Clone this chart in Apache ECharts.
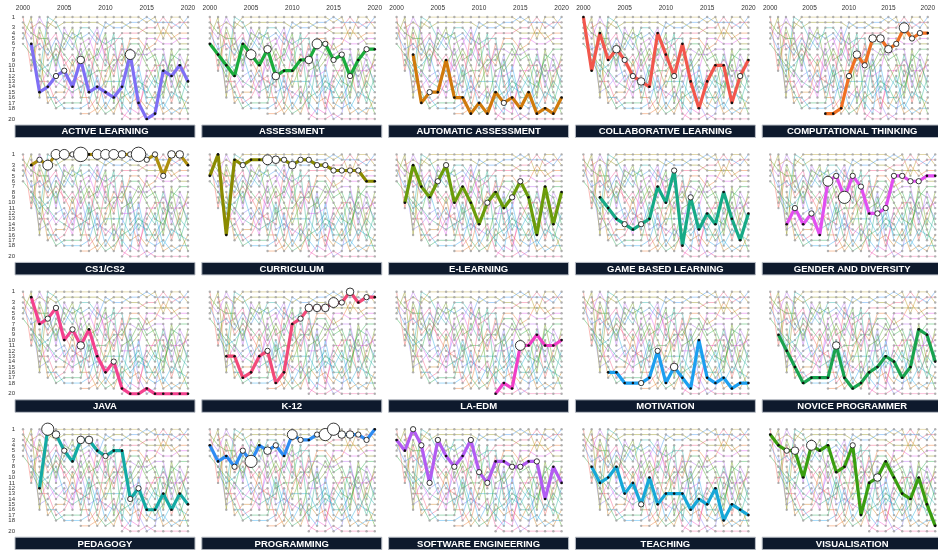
<!DOCTYPE html>
<html>
<head>
<meta charset="utf-8">
<script src="https://cdn.jsdelivr.net/npm/echarts@6/dist/echarts.min.js"></script>
<style>
  html, body { margin: 0; padding: 0; background: #fff; }
  #chart { width: 938px; height: 550px; }
</style>
</head>
<body>
<div id="chart"></div>
<script>
// Keyword ranking per year (1 = most frequent), null = not in the top list that year
const years = [2000, 2001, 2002, 2003, 2004, 2005, 2006, 2007, 2008, 2009, 2010,
               2011, 2012, 2013, 2014, 2015, 2016, 2017, 2018, 2019, 2020];
const yearTicks = [2000, 2005, 2010, 2015, 2020];
const rankTicks = [1, 2, 3, 4, 5, 6, 7, 8, 9, 10, 11, 12, 13, 14, 15, 16, 17, 18, 19, 20];

const topics = ['ACTIVE LEARNING', 'ASSESSMENT', 'AUTOMATIC ASSESSMENT', 'COLLABORATIVE LEARNING',
  'COMPUTATIONAL THINKING', 'CS1/CS2', 'CURRICULUM', 'E-LEARNING', 'GAME BASED LEARNING',
  'GENDER AND DIVERSITY', 'JAVA', 'K-12', 'LA-EDM', 'MOTIVATION', 'NOVICE PROGRAMMER',
  'PEDAGOGY', 'PROGRAMMING', 'SOFTWARE ENGINEERING', 'TEACHING', 'VISUALISATION'];

const topicColors = ['#7f6ff5', '#1aac3c', '#d07a0c', '#f2574c', '#f07023', '#ad8f0e', '#8a8a00',
  '#6b9c0a', '#16aa86', '#e24ff0', '#f4418e', '#f24a78', '#f03ec6', '#1c9ff0', '#19a34f',
  '#14aaa4', '#2e8cf2', '#b25cf2', '#16a8d8', '#3a9e10'];

// ranks
const rankActiveLearning = [null, 6, 15, 14, 12, 11, 14, 9, 15, 14, 15, 16, 14, 8, 17, 20, 19, 11, 12, 10, 13];
const rankAssessment = [6, 8, 10, 12, 6, 8, 10, 7, 12, 11, 11, 9, 9, 6, 6, 9, 8, 12, 9, 7, 7];
const rankAutomaticAssessment = [null, null, 8, 17, 15, 15, 9, 16, 16, 19, 17, 19, 15, 17, 16, 18, 15, 19, 18, 19, 16];
const rankCollaborativeLearning = [1, 11, 4, 9, 7, 9, 12, 13, 14, 4, 8, 12, 6, 13, 18, 13, 10, 10, 17, 12, 9];
const rankComputationalThinking = [null, null, null, null, null, null, null, 19, 19, 18, 12, 8, 10, 5, 5, 7, 6, 3, 5, 4, 4];
const rankCs1Cs2 = [null, 3, 2, 3, 1, 1, 1, 1, 1, 1, 1, 1, 1, 1, 1, 2, 1, 5, 1, 1, 3];
const rankCurriculum = [5, 1, 16, 2, 3, 2, 2, 2, 2, 2, 3, 2, 2, 3, 3, 4, 4, 4, 4, 6, 6];
const rankELearning = [null, 10, 3, 7, 9, 6, 3, 10, 7, 10, 14, 10, 8, 11, 9, 6, 9, 16, 7, 14, 8];
const rankGameBasedLearning = [null, null, 9, 11, 13, 14, 15, 14, 13, 7, 10, 4, 18, 9, 15, 12, 14, 8, 13, 17, 12];
const rankGenderDiversity = [null, null, 14, 11, 14, 12, 16, 6, 5, 9, 5, 7, 12, 12, 11, 5, 5, 6, 6, 5, 5];
const rankJava = [null, 2, 7, 6, 4, 10, 8, 11, 8, 13, 16, 14, 19, 20, 20, 19, 20, 20, 20, 20, 20];
const rankK12 = [null, null, 13, 13, 17, 16, 13, 12, 18, 16, 7, 6, 4, 4, 4, 3, 3, 1, 3, 2, 2];
const rankLaEdm = [null, null, null, null, null, null, null, null, null, null, null, null, 20, 18, 19, 11, 11, 9, 11, 11, 10];
const rankMotivation = [null, null, null, 16, 16, 18, 18, 18, 17, 12, 18, 15, 17, 19, 10, 17, 18, 17, 19, 18, 18];
const rankNoviceProgrammer = [null, 9, 12, 15, 18, 17, 17, 17, 11, 17, 19, 18, 16, 15, 13, 14, 17, 15, 8, 9, 14];
const rankPedagogy = [null, null, 12, 1, 2, 5, 7, 3, 3, 5, 6, 5, 5, 14, 12, 16, 16, 13, 16, 13, 15];
const rankProgramming = [4, 7, 6, 8, 5, 7, 4, 5, 4, 6, 2, 3, 3, 2, 2, 1, 2, 2, 2, 3, 1];
const rankSoftwareEngineering = [3, 5, 1, 4, 11, 3, 6, 8, 6, 3, 9, 11, 7, 7, 8, 8, 7, 7, 14, 8, 11];
const rankTeaching = [null, 8, 11, 10, 8, 13, 11, 15, 10, 15, 13, 13, 13, 16, 14, 15, 12, 18, 15, 16, 17];
const rankVisualisation = [2, 4, 5, 5, 10, 4, 5, 4, 9, 8, 4, 17, 11, 10, 7, 10, 13, 14, 10, 15, 19];

// highlighted papers per keyword-year (0 = none)
const hlActiveLearning = [null, 0, 0, 0, 1, 1, 0, 2, 0, 0, 0, 0, 0, 3, 0, 0, 0, 0, 0, 0, 0];
const hlAssessment = [0, 0, 0, 0, 0, 3, 0, 2, 2, 0, 0, 0, 2, 3, 1, 1, 1, 1, 0, 1, 0];
const hlAutomaticAssessment = [null, null, 0, 0, 1, 0, 0, 0, 0, 0, 0, 0, 0, 1, 0, 0, 0, 0, 0, 0, 0];
const hlCollaborativeLearning = [0, 0, 0, 0, 2, 1, 1, 2, 0, 0, 0, 1, 0, 0, 0, 0, 0, 0, 0, 1, 0];
const hlComputationalThinking = [null, null, null, null, null, null, null, 0, 0, 0, 1, 2, 1, 2, 2, 2, 1, 3, 1, 1, 0];
const hlCs1Cs2 = [null, 0, 1, 3, 3, 3, 1, 5, 0, 3, 3, 3, 2, 1, 5, 1, 1, 1, 2, 2, 0];
const hlCurriculum = [0, 0, 0, 0, 1, 0, 0, 3, 2, 1, 2, 1, 1, 1, 1, 1, 1, 1, 1, 0, 0];
const hlELearning = [null, 0, 0, 0, 0, 1, 1, 0, 0, 0, 0, 1, 0, 0, 1, 1, 0, 0, 0, 0, 0];
const hlGameBasedLearning = [null, null, 0, 0, 0, 1, 0, 1, 0, 0, 0, 1, 0, 1, 0, 0, 0, 0, 0, 0, 0];
const hlGenderDiversity = [null, null, 0, 1, 0, 1, 0, 3, 1, 4, 1, 1, 0, 1, 1, 1, 1, 1, 1, 0, 0];
const hlJava = [null, 0, 0, 1, 1, 0, 1, 2, 0, 0, 0, 1, 0, 0, 0, 0, 0, 0, 0, 0, 0];
const hlK12 = [null, null, 0, 0, 0, 0, 0, 1, 0, 0, 0, 1, 2, 2, 2, 3, 1, 2, 0, 1, 0];
const hlLaEdm = [null, null, null, null, null, null, null, null, null, null, null, null, 0, 0, 0, 3, 0, 0, 0, 0, 0];
const hlMotivation = [null, null, null, 0, 0, 0, 0, 1, 0, 1, 0, 2, 0, 0, 0, 0, 0, 0, 0, 0, 0];
const hlNoviceProgrammer = [null, 0, 0, 0, 0, 0, 0, 0, 2, 0, 0, 0, 0, 0, 0, 0, 0, 0, 0, 0, 0];
const hlPedagogy = [null, null, 0, 4, 2, 1, 0, 2, 2, 0, 1, 0, 0, 1, 1, 0, 0, 0, 0, 0, 0];
const hlProgramming = [0, 0, 0, 1, 1, 4, 0, 2, 1, 0, 3, 1, 0, 1, 4, 4, 2, 2, 1, 1, 0];
const hlSoftwareEngineering = [0, 0, 1, 1, 1, 1, 0, 1, 0, 1, 1, 1, 0, 0, 1, 1, 0, 1, 0, 0, 0];
const hlTeaching = [null, 0, 0, 0, 0, 0, 0, 1, 0, 0, 0, 0, 0, 0, 0, 0, 0, 0, 0, 0, 0];
const hlVisualisation = [0, 0, 1, 2, 0, 3, 0, 0, 0, 0, 1, 0, 0, 2, 0, 0, 0, 0, 0, 0, 0];

const rankSeries = [rankActiveLearning, rankAssessment, rankAutomaticAssessment, rankCollaborativeLearning,
  rankComputationalThinking, rankCs1Cs2, rankCurriculum, rankELearning, rankGameBasedLearning,
  rankGenderDiversity, rankJava, rankK12, rankLaEdm, rankMotivation, rankNoviceProgrammer,
  rankPedagogy, rankProgramming, rankSoftwareEngineering, rankTeaching, rankVisualisation];
const highlightSeries = [hlActiveLearning, hlAssessment, hlAutomaticAssessment, hlCollaborativeLearning,
  hlComputationalThinking, hlCs1Cs2, hlCurriculum, hlELearning, hlGameBasedLearning,
  hlGenderDiversity, hlJava, hlK12, hlLaEdm, hlMotivation, hlNoviceProgrammer,
  hlPedagogy, hlProgramming, hlSoftwareEngineering, hlTeaching, hlVisualisation];

// facet layout
const COLS = 5;
const colStep = 186.8, rowStep = 137.4;
const plotLeft = 23, plotTop = 17, plotW = 165, plotH = 102;
const barLeft = 15, barTop = 125, barW = 180, barH = 12.5;
const FONT = 'Liberation Sans, Arial, sans-serif';

function points(t) {
  const out = [];
  years.forEach((y, i) => {
    const r = rankSeries[t][i];
    if (r != null) out.push([y, r, highlightSeries[t][i] || 0]);
  });
  return out;
}

const grids = [], xAxes = [], yAxes = [], series = [], graphics = [];

topics.forEach((name, g) => {
  const row = Math.floor(g / COLS), col = g % COLS;
  const left = plotLeft + col * colStep, top = plotTop + row * rowStep;
  grids.push({ left: left, top: top, width: plotW, height: plotH, containLabel: false });
  xAxes.push({
    gridIndex: g, type: 'value', min: 2000, max: 2020, interval: 5, position: 'top',
    axisLine: { show: false }, axisTick: { show: false }, splitLine: { show: false },
    axisLabel: { show: row === 0, fontSize: 6.5, color: '#333', margin: 5, fontFamily: FONT,
                 customValues: yearTicks, formatter: v => String(v) }
  });
  yAxes.push({
    gridIndex: g, type: 'value', inverse: true, min: 1, max: 20, interval: 1,
    axisLine: { show: false }, axisTick: { show: false }, splitLine: { show: false },
    axisLabel: { show: col === 0, fontSize: 6, lineHeight: 6, color: '#333', margin: 8,
                 fontFamily: FONT, customValues: rankTicks, hideOverlap: false,
                 showMinLabel: true, showMaxLabel: true, formatter: v => String(v) }
  });

  // every keyword as faint context
  topics.forEach((other, t) => {
    series.push({
      type: 'line', xAxisIndex: g, yAxisIndex: g, silent: true, z: 1,
      data: points(t).map(p => [p[0], p[1]]),
      lineStyle: { color: topicColors[t], width: 0.9, opacity: 0.45 },
      symbol: 'circle', symbolSize: 2.4,
      itemStyle: { color: '#a3a3a3', opacity: 0.85 }
    });
  });

  // the facet's own keyword on top
  series.push({
    type: 'line', xAxisIndex: g, yAxisIndex: g, silent: true, z: 5,
    lineStyle: { color: topicColors[g], width: 3.2 },
    symbol: 'circle',
    data: points(g).map(p => {
      const w = p[2];
      return {
        value: p,
        symbolSize: w > 0 ? 3 + w * 2.3 : 2.6,
        itemStyle: w > 0
          ? { color: '#fff', borderColor: '#222', borderWidth: 0.9 }
          : { color: '#111', borderWidth: 0 }
      };
    })
  });

  // facet title strip
  const bx = barLeft + col * colStep, by = barTop + row * rowStep;
  graphics.push({
    type: 'rect', silent: true, z: 10,
    shape: { x: bx, y: by, width: barW, height: barH },
    style: { fill: '#0e1a2d', stroke: '#b9bec6', lineWidth: 1 }
  });
  graphics.push({
    type: 'text', silent: true, z: 11,
    x: bx + barW / 2, y: by + barH / 2 + 0.5,
    style: { text: name, fill: '#ffffff', font: 'bold 9.5px ' + FONT,
             textAlign: 'center', textVerticalAlign: 'middle' }
  });
});

const chart = echarts.init(document.getElementById('chart'), null, { renderer: 'canvas' });
chart.setOption({
  animation: false,
  backgroundColor: '#ffffff',
  grid: grids,
  xAxis: xAxes,
  yAxis: yAxes,
  series: series,
  graphic: graphics
});
</script>
</body>
</html>
